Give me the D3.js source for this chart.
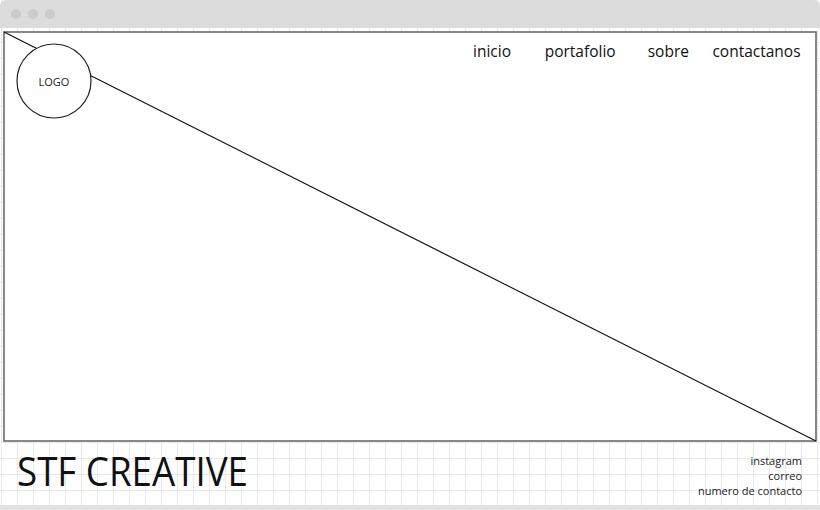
<!DOCTYPE html>
<html>
<head>
<meta charset="utf-8">
<script src="https://cdn.jsdelivr.net/npm/d3@7"></script>
<style>
  html, body { margin: 0; padding: 0; background: #fff; }
  svg { display: block; font-family: "Open Sans", sans-serif; }
</style>
</head>
<body>
<div id="chart-area"></div>
<script>
// wireframe content
var navItems = ["inicio", "portafolio", "sobre", "contactanos"];
var footerLinks = ["instagram", "correo", "numero de contacto"];
var brand = "STF CREATIVE";
var logoLabel = "LOGO";
var windowDots = [0, 1, 2];

var W = 820, H = 510;
var svg = d3.select("#chart-area").append("svg").attr("width", W).attr("height", H);

// background grid
var grid = svg.append("g");
grid.selectAll(".v").data(d3.range(1, W, 16)).enter().append("line")
    .attr("x1", d => d + 0.5).attr("x2", d => d + 0.5)
    .attr("y1", 0).attr("y2", H)
    .attr("stroke", "#e8e8e8").attr("stroke-width", 1);
grid.selectAll(".h").data(d3.range(10, H, 16)).enter().append("line")
    .attr("y1", d => d + 0.5).attr("y2", d => d + 0.5)
    .attr("x1", 0).attr("x2", W)
    .attr("stroke", "#e8e8e8").attr("stroke-width", 1);

// window title bar
svg.append("path")
    .attr("d", "M0,28 L0,6 Q0,0 6,0 L814,0 Q820,0 820,6 L820,28 Z")
    .attr("fill", "#dcdcdc");
var dotX = d3.scalePoint().domain(windowDots).range([16, 50]);
svg.selectAll(".dot").data(windowDots).enter().append("circle")
    .attr("cx", d => dotX(d)).attr("cy", 14).attr("r", 5)
    .attr("fill", "#cbcbcb");

// bottom strip
svg.append("rect").attr("x", 0).attr("y", 505).attr("width", W).attr("height", 5).attr("fill", "#e3e3e3");

// hero box
var box = { x0: 4, y0: 32, x1: 816, y1: 441 };
svg.append("rect")
    .attr("x", box.x0).attr("y", box.y0)
    .attr("width", box.x1 - box.x0).attr("height", box.y1 - box.y0)
    .attr("fill", "#fff").attr("stroke", "#6b6b6b").attr("stroke-width", 1.6);

var lineX = d3.scaleLinear().domain([0, 1]).range([box.x0, box.x1]);
var lineY = d3.scaleLinear().domain([0, 1]).range([box.y0, box.y1]);
svg.append("line")
    .attr("x1", lineX(0)).attr("y1", lineY(0))
    .attr("x2", lineX(1)).attr("y2", lineY(1))
    .attr("stroke", "#111").attr("stroke-width", 1.2);

// logo
svg.append("circle").attr("cx", 54).attr("cy", 81).attr("r", 37)
    .attr("fill", "#fff").attr("stroke", "#222").attr("stroke-width", 1.2);
svg.append("text").attr("x", 54).attr("y", 85.5)
    .attr("text-anchor", "middle").attr("font-size", 11).attr("fill", "#222")
    .text(logoLabel);

// nav
var navX = d3.scalePoint().domain(navItems).range([492, 756.5]);
svg.selectAll(".nav").data(navItems).enter().append("text")
    .attr("x", d => navX(d)).attr("y", 57)
    .attr("text-anchor", "middle").attr("font-size", 15.5).attr("fill", "#111")
    .text(d => d);

// footer
svg.append("text").attr("x", 17).attr("y", 486)
    .attr("font-size", 41).attr("fill", "#111")
    .attr("textLength", 231).attr("lengthAdjust", "spacingAndGlyphs")
    .text(brand);

var footY = d3.scalePoint().domain(footerLinks).range([465, 495]);
svg.selectAll(".foot").data(footerLinks).enter().append("text")
    .attr("x", 802).attr("y", d => footY(d))
    .attr("text-anchor", "end").attr("font-size", 11).attr("fill", "#222")
    .text(d => d);
</script>
</body>
</html>
